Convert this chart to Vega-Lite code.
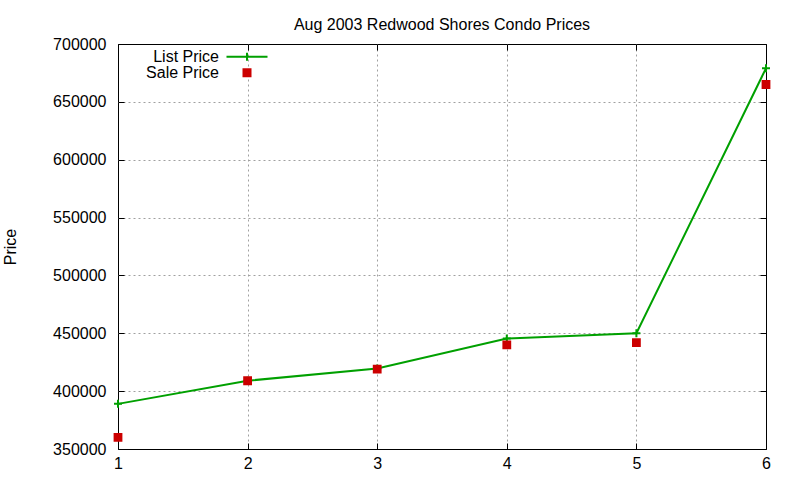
{
  "$schema": "https://vega.github.io/schema/vega-lite/v6.json",
  "width": 648,
  "height": 405,
  "autosize": {"type": "none"},
  "padding": {"left": 118, "top": 44, "right": 34, "bottom": 31},
  "background": "white",
  "title": {"text": "Aug 2003 Redwood Shores Condo Prices", "fontSize": 16, "fontWeight": "normal", "color": "black", "offset": 3, "anchor": "middle"},
  "config": {"font": "Liberation Sans", "view": {"stroke": "black", "strokeWidth": 1}},
  "data": {"values": [
    {"x": 1, "series": "List Price", "price": 389000},
    {"x": 2, "series": "List Price", "price": 409000},
    {"x": 3, "series": "List Price", "price": 419500},
    {"x": 4, "series": "List Price", "price": 445500},
    {"x": 5, "series": "List Price", "price": 450000},
    {"x": 6, "series": "List Price", "price": 679000},
    {"x": 1, "series": "Sale Price", "price": 360000},
    {"x": 2, "series": "Sale Price", "price": 409000},
    {"x": 3, "series": "Sale Price", "price": 419000},
    {"x": 4, "series": "Sale Price", "price": 440000},
    {"x": 5, "series": "Sale Price", "price": 442000},
    {"x": 6, "series": "Sale Price", "price": 665000}
  ]},
  "layer": [
    {
      "transform": [{"filter": "datum.series === 'List Price'"}],
      "mark": {"type": "line", "color": "#00a000", "strokeWidth": 2},
      "encoding": {
        "x": {"field": "x", "type": "quantitative", "scale": {"domain": [1, 6], "nice": false, "zero": false},
          "axis": {"orient": "bottom", "values": [1, 2, 3, 4, 5, 6], "format": "d", "grid": true,
            "gridColor": {"condition": {"test": "datum.value === 1 || datum.value === 6", "value": "transparent"}, "value": "#a0a0a0"},
            "gridDash": [2, 3], "domain": false, "tickSize": -6, "tickColor": "black", "labelPadding": 12, "labelFlush": false,
            "labelFontSize": 16, "labelColor": "black", "title": null}},
        "y": {"field": "price", "type": "quantitative", "scale": {"domain": [350000, 700000], "nice": false, "zero": false},
          "axis": {"orient": "left", "values": [350000, 400000, 450000, 500000, 550000, 600000, 650000, 700000], "format": "d", "grid": true,
            "gridColor": {"condition": {"test": "datum.value === 350000 || datum.value === 700000", "value": "transparent"}, "value": "#a0a0a0"},
            "gridDash": [2, 3], "domain": false, "tickSize": -6, "tickColor": "black", "labelPadding": 18, "labelFlush": false,
            "labelFontSize": 16, "labelColor": "black", "title": "Price", "titleFontSize": 16, "titleFontWeight": "normal",
            "titleColor": "black", "titlePadding": 34}}
      }
    },
    {
      "transform": [{"filter": "datum.series === 'List Price'"}],
      "mark": {"type": "point", "shape": "M-1,0H1M0,-1V1", "filled": false, "size": 64, "strokeWidth": 2, "opacity": 1},
      "encoding": {
        "x": {"field": "x", "type": "quantitative", "scale": {"domain": [1, 6], "nice": false, "zero": false},
          "axis": {"orient": "top", "values": [1, 2, 3, 4, 5, 6], "labels": false, "grid": false, "domain": false, "tickSize": -6, "tickColor": "black", "title": null}},
        "y": {"field": "price", "type": "quantitative", "scale": {"domain": [350000, 700000], "nice": false, "zero": false},
          "axis": {"orient": "right", "values": [350000, 400000, 450000, 500000, 550000, 600000, 650000, 700000], "labels": false, "grid": false, "domain": false, "tickSize": -6, "tickColor": "black", "title": null}},
        "color": {"field": "series", "type": "nominal",
          "scale": {"domain": ["List Price", "Sale Price"], "range": ["#00a000", "#cc0000"]},
          "legend": {"orient": "none", "legendX": 121, "legendY": 4.7, "direction": "vertical", "title": null,
            "symbolSize": 196, "symbolType": "M-2.93,0H2.93M0,-0.57V0.57", "labelAlign": "right", "labelOffset": -36, "labelFontSize": 16,
            "labelColor": "black", "labelBaseline": "middle", "padding": 0, "rowPadding": 0, "offset": 0, "symbolStrokeWidth": 2,
            "encoding": {"symbols": {
              "shape": {"condition": {"test": "datum.value === 'List Price'", "value": "M-2.93,0H2.93M0,-0.57V0.57"}, "value": "M-0.5,-0.5H0.5V0.5H-0.5Z"},
              "fill": {"condition": {"test": "datum.value === 'List Price'", "value": "transparent"}, "value": "#cc0000"}
            }}}}
      }
    },
    {
      "transform": [{"filter": "datum.series === 'Sale Price'"}],
      "mark": {"type": "point", "shape": "M-0.85,-0.85H0.85V0.85H-0.85Z", "filled": true, "size": 64, "strokeWidth": 2, "opacity": 1},
      "encoding": {
        "x": {"field": "x", "type": "quantitative", "axis": null},
        "y": {"field": "price", "type": "quantitative", "axis": null},
        "color": {"field": "series", "type": "nominal"},
        "stroke": {"field": "series", "type": "nominal", "scale": {"domain": ["List Price", "Sale Price"], "range": ["#00a000", "#cc0000"]}, "legend": null}
      }
    }
  ],
  "resolve": {"axis": {"x": "independent", "y": "independent"}}
}
